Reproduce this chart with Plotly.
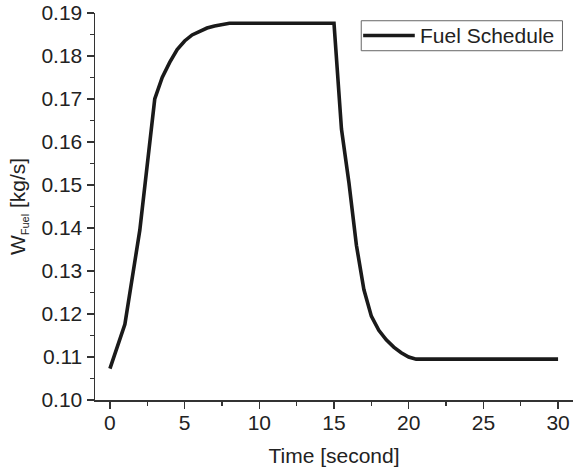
import plotly.graph_objects as go

time_s = [0, 1, 2, 3, 3.5, 4, 4.5, 5, 5.5, 6, 6.5, 7, 7.5, 8, 15,
          15.5, 16, 16.5, 17, 17.5, 18, 18.5, 19, 19.5, 20, 20.5, 30]
fuel_flow = [0.1073, 0.1176, 0.1395, 0.1700, 0.1750, 0.1785, 0.1815, 0.1835,
             0.1849, 0.1858, 0.1865, 0.1870, 0.1874, 0.1876, 0.1876,
             0.1630, 0.1505, 0.1360, 0.1257, 0.1195, 0.1162, 0.1140,
             0.1123, 0.1110, 0.1100, 0.1095, 0.1095]
series_name = "Fuel Schedule"
x_ticks = [0, 5, 10, 15, 20, 25, 30]
y_ticks = [0.10, 0.11, 0.12, 0.13, 0.14, 0.15, 0.16, 0.17, 0.18, 0.19]

FONT = "Liberation Sans, Arial, sans-serif"
FS = 21
AX = "#333333"
TXT = "#222222"
LINE = "#1a1a1a"

fig = go.Figure()
fig.add_trace(go.Scatter(x=time_s, y=fuel_flow, mode="lines", name=series_name,
                         showlegend=False, hoverinfo="skip",
                         line=dict(color=LINE, width=3.6)))

# legend drawn as box + sample line + text (paper coordinates)
fig.add_shape(type="rect", xref="paper", yref="paper",
              x0=0.557, x1=0.978, y0=0.9025, y1=0.980,
              line=dict(color="#666666", width=1), fillcolor="white", layer="above")
fig.add_shape(type="line", xref="paper", yref="paper",
              x0=0.561, x1=0.669, y0=0.9418, y1=0.9418,
              line=dict(color=LINE, width=3.6), layer="above")
fig.add_annotation(text=series_name, xref="paper", yref="paper",
                   x=0.675, y=0.9418, xanchor="left", yanchor="middle",
                   showarrow=False, font=dict(size=FS, color=TXT, family=FONT))

fig.update_layout(
    width=573, height=472,
    margin=dict(l=95, r=0, t=13, b=72),
    paper_bgcolor="white", plot_bgcolor="white",
    font=dict(family=FONT, size=FS, color=TXT),
    showlegend=False,
    xaxis=dict(range=[-1, 31], tickmode="array", tickvals=x_ticks,
               automargin=False, ticklabelstandoff=-4,
               ticks="outside", ticklen=7, tickwidth=1.3, tickcolor=AX,
               showline=True, linecolor=AX, linewidth=1.5,
               showgrid=False, zeroline=False,
               minor=dict(dtick=2.5, tick0=0, ticks="outside", ticklen=4,
                          tickwidth=1.3, tickcolor=AX, showgrid=False),
               title=dict(text="Time [second]", standoff=15,
                          font=dict(size=FS, color=TXT))),
    yaxis=dict(range=[0.10, 0.19], tickmode="array", tickvals=y_ticks,
               tickformat=".2f", automargin=False,
               ticks="outside", ticklen=7, tickwidth=1.3, tickcolor=AX,
               showline=True, linecolor=AX, linewidth=1.5,
               showgrid=False, zeroline=False,
               minor=dict(dtick=0.005, tick0=0.10, ticks="outside", ticklen=4,
                          tickwidth=1.3, tickcolor=AX, showgrid=False),
               title=dict(text='W<sub><span style="font-size:11px">Fuel</span></sub> [kg/s]',
                          standoff=10, font=dict(size=FS, color=TXT))),
)

fig.write_html("out.html", config={"displayModeBar": False, "staticPlot": True},
               post_script="document.body.style.margin='0';document.body.style.padding='0';")
